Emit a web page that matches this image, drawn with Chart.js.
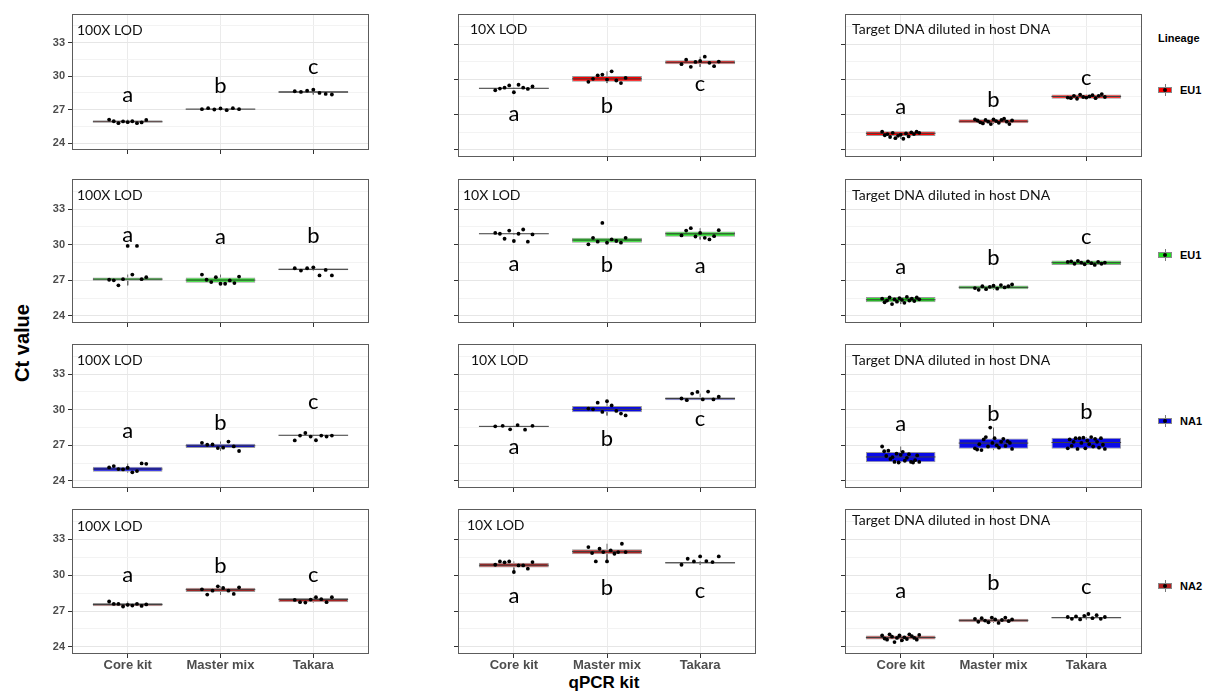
<!DOCTYPE html>
<html>
<head>
<meta charset="utf-8">
<script src="https://cdn.jsdelivr.net/npm/chart.js@4.4.1/dist/chart.umd.min.js"></script>
<style>
  html, body { margin: 0; padding: 0; background: #fff; }
  #fig { position: relative; width: 1209px; height: 691px; overflow: hidden; font-family: 'Liberation Sans', Arial, sans-serif; }
  #fig canvas { position: absolute; }
  .ytitle { position: absolute; left: 22px; top: 343px; transform: translate(-50%, -50%) rotate(-90deg); font-weight: bold; font-size: 20px; white-space: nowrap; color: #000; }
  .xtitle { position: absolute; left: 604px; top: 683px; transform: translate(-50%, -50%); font-weight: bold; font-size: 17px; white-space: nowrap; color: #000; }
  .legtitle { position: absolute; left: 1158px; top: 32px; font-weight: bold; font-size: 11px; line-height: 12px; color: #000; }
  .key { position: absolute; left: 1158px; width: 14px; height: 12px; }
  .key .wh { position: absolute; left: 6.5px; top: 0; width: 1px; height: 12px; background: #777; }
  .key .bx { position: absolute; left: 0; top: 3px; width: 12px; height: 4px; border: 1px solid #888; }
  .key .dot { position: absolute; left: 5px; top: 4px; width: 4px; height: 4px; border-radius: 50%; background: #000; }
  .keylab { position: absolute; left: 1180px; font-weight: bold; font-size: 11px; line-height: 12px; color: #000; }
</style>
</head>
<body>
<div id="fig">
  <div class="ytitle">Ct value</div>
  <div class="xtitle">qPCR kit</div>
  <div class="legtitle">Lineage</div>
</div>
<script>
// ---- data ----
const kits = ['Core kit', 'Master mix', 'Takara'];
const conditions = ['100X LOD', '10X LOD', 'Target DNA diluted in host DNA'];
const lineageNames = ['EU1', 'EU1', 'NA1', 'NA2'];
const yTicksMajor = [24, 27, 30, 33];
const yTicksMinor = [25.5, 28.5, 31.5, 34.5];

// box limits per lineage row -> condition -> kit
const boxLow = [
  [[25.85, 27.02, 28.50], [29.20, 29.79, 31.29], [25.19, 26.27, 28.35]],
  [[26.96, 26.80, 27.85], [30.90, 30.18, 30.68], [25.16, 26.24, 28.29]],
  [[24.78, 26.77, 27.83], [28.58, 29.80, 30.81], [25.58, 26.71, 26.71]],
  [[27.41, 28.60, 27.74], [30.65, 31.76, 30.98], [24.61, 26.05, 26.40]]
];
const boxMid = [
  [[25.92, 27.05, 28.58], [29.24, 30.04, 31.45], [25.41, 26.44, 28.54]],
  [[27.10, 27.02, 27.93], [30.93, 30.40, 30.93], [25.36, 26.41, 28.49]],
  [[25.00, 26.96, 27.85], [28.60, 30.04, 30.95], [26.02, 27.19, 27.24]],
  [[27.55, 28.79, 27.96], [30.84, 31.98, 31.04], [24.78, 26.22, 26.44]]
];
const boxHigh = [
  [[26.05, 27.10, 28.68], [29.27, 30.29, 31.62], [25.58, 26.60, 28.71]],
  [[27.24, 27.24, 28.00], [30.96, 30.59, 31.12], [25.60, 26.57, 28.68]],
  [[25.19, 27.13, 27.88], [28.63, 30.32, 31.06], [26.44, 27.57, 27.63]],
  [[27.68, 28.96, 28.10], [31.04, 32.17, 31.10], [24.94, 26.35, 26.50]]
];

// significance letters and their heights (Ct)
const groupLetters = [
  [['a', 'b', 'c'], ['a', 'b', 'c'], ['a', 'b', 'c']],
  [['a', 'a', 'b'], ['a', 'b', 'a'], ['a', 'b', 'c']],
  [['a', 'b', 'c'], ['a', 'b', 'c'], ['a', 'b', 'b']],
  [['a', 'b', 'c'], ['a', 'b', 'c'], ['a', 'b', 'c']]
];
const letterCt = [
  [[28.30, 29.14, 30.85], [27.05, 27.71, 29.57], [27.63, 28.24, 30.12]],
  [[30.81, 30.65, 30.73], [28.38, 28.27, 28.18], [28.15, 28.93, 30.65]],
  [[28.18, 28.90, 30.70], [26.85, 27.57, 29.24], [28.85, 29.65, 29.82]],
  [[30.04, 30.76, 30.04], [28.29, 28.96, 28.65], [28.65, 29.37, 29.04]]
];

// individual Ct values (left to right within each kit)
const ctEU1red = [
  [[26.12, 25.97, 25.80, 25.95, 25.89, 25.97, 25.80, 25.86, 26.09],
   [27.05, 27.14, 27.02, 27.11, 26.96, 27.14, 27.05],
   [28.65, 28.59, 28.70, 28.79, 28.50, 28.41, 28.36]],
  [[29.07, 29.21, 29.29, 29.48, 28.90, 29.54, 29.29, 29.18, 29.40],
   [29.79, 30.04, 30.34, 30.40, 29.98, 30.68, 29.90, 29.68, 30.12],
   [31.29, 31.67, 31.06, 31.48, 31.56, 31.92, 31.40, 31.12, 31.51]],
  [[25.55, 25.25, 25.35, 25.10, 25.45, 25.00, 25.20, 25.30, 24.95, 25.40, 25.15, 25.50, 25.35, 25.55, 25.45],
   [26.60, 26.50, 26.35, 26.25, 26.55, 26.40, 26.20, 26.60, 26.45, 26.30, 26.55, 26.65, 26.40, 26.20, 26.50],
   [28.45, 28.40, 28.60, 28.35, 28.70, 28.50, 28.45, 28.55, 28.65, 28.40, 28.60, 28.75, 28.50]]
];
const ctEU1green = [
  [[27.05, 27.00, 26.58, 27.10, 29.90, 27.49, 29.90, 27.10, 27.27],
   [27.49, 27.05, 26.85, 27.27, 26.71, 26.71, 26.99, 26.77, 27.32],
   [28.02, 27.82, 28.02, 28.10, 27.41, 27.88, 27.41]],
  [[31.00, 30.93, 30.51, 31.20, 30.32, 30.93, 31.29, 30.26, 30.87],
   [30.04, 30.59, 30.26, 31.84, 30.18, 30.45, 30.32, 30.18, 30.59],
   [30.79, 31.20, 31.40, 30.70, 31.00, 30.59, 30.45, 30.73, 31.23]],
  [[25.45, 25.15, 25.30, 25.55, 25.00, 25.40, 25.20, 25.50, 25.35, 25.10, 25.60, 25.30, 25.45, 25.25, 25.55, 25.40],
   [26.35, 26.20, 26.50, 26.25, 26.45, 26.55, 26.30, 26.60, 26.40, 26.50, 26.65],
   [28.55, 28.60, 28.40, 28.65, 28.50, 28.35, 28.60, 28.45, 28.30, 28.55, 28.40, 28.50]]
];
const ctNA1 = [
  [[25.14, 25.25, 25.00, 24.97, 25.11, 24.72, 24.83, 25.47, 25.44],
   [27.21, 27.05, 27.07, 26.77, 26.80, 27.32, 26.91, 26.52],
   [27.41, 27.82, 28.04, 27.74, 27.43, 27.82, 27.74, 27.82]],
  [[28.60, 28.65, 28.35, 28.71, 28.32, 28.65],
   [30.10, 30.04, 30.60, 29.82, 30.73, 30.37, 29.90, 29.68, 29.52],
   [30.95, 30.81, 31.37, 31.51, 30.87, 31.54, 30.87, 31.10]],
  [[26.90, 26.50, 26.10, 26.55, 25.85, 26.00, 25.60, 26.30, 25.55, 26.20, 26.45, 25.70, 25.95, 26.25, 25.60, 25.55, 25.75, 26.15, 25.60],
   [26.75, 26.65, 27.10, 26.60, 27.50, 27.70, 26.90, 28.50, 27.20, 27.60, 27.00, 26.80, 27.30, 27.55, 26.95, 27.35, 27.20, 26.70],
   [26.75, 27.50, 26.95, 27.30, 27.60, 26.70, 27.60, 27.20, 27.65, 26.75, 27.40, 27.10, 27.70, 26.90, 27.55, 27.30, 26.80, 27.60, 27.05, 26.70]]
];
const ctNA2 = [
  [[27.80, 27.60, 27.60, 27.38, 27.52, 27.46, 27.60, 27.43, 27.55],
   [28.82, 28.38, 28.71, 29.07, 28.93, 28.71, 28.43, 28.99],
   [27.93, 27.74, 27.71, 27.96, 28.16, 27.99, 27.74, 28.16]],
  [[30.88, 31.16, 31.08, 31.16, 30.27, 30.82, 30.82, 30.55, 31.10],
   [32.36, 31.86, 31.16, 32.22, 31.94, 31.16, 32.08, 31.80, 31.94, 32.64, 31.94],
   [30.88, 31.38, 31.16, 31.58, 31.19, 31.10, 31.58]],
  [[24.95, 24.70, 24.60, 25.05, 24.85, 24.40, 24.75, 24.95, 24.55, 24.80, 24.65, 25.05, 24.90, 24.75, 24.60, 25.00],
   [26.35, 26.10, 26.40, 26.20, 26.05, 26.45, 26.30, 26.00, 26.25, 26.45, 26.15, 26.30],
   [26.50, 26.35, 26.55, 26.30, 26.60, 26.75, 26.40, 26.65, 26.35, 26.50]]
];
const ctByRow = [ctEU1red, ctEU1green, ctNA1, ctNA2];

// ---- styling / layout ----
const fillColors = ['#ff0000', '#22dd22', '#0a0ae6', '#b22222'];
const colLeft = [72, 458, 845];
const colRight = [370, 757, 1143];
const rowTop = [12, 177, 342, 507];
const rowBottom = [[150, 157, 157], [323, 323, 323], [488, 488, 488], [654, 654, 654]];
const titleOffset = [
  [[5, 21], [12, 20], [7, 20]],
  [[5, 21], [5, 21], [7, 21]],
  [[5, 21], [13, 21], [7, 21]],
  [[5, 22], [9, 21], [7, 16]]
];
const legendKeyY = [90, 255, 421, 586];
const Y_MIN = 23.4, Y_MAX = 35.55, X_MIN = 0.4, X_MAX = 3.6;
const BOX_HALF = 0.375, JITTER = 0.2, AXIS_W = 40;
const yTicksAll = yTicksMajor.concat(yTicksMinor).sort((a, b) => a - b);

function whiskerEnds(pts, lo, hi) {
  const iqr = hi - lo;
  const inside = pts.filter(v => v >= lo - 1.5 * iqr && v <= hi + 1.5 * iqr);
  return [Math.min(lo, ...inside), Math.max(hi, ...inside)];
}

// frame, facet caption and group letters
const panelDecor = {
  id: 'panelDecor',
  afterDatasetsDraw(chart, args, o) {
    const {ctx, scales: {x, y}} = chart;
    ctx.save();
    ctx.fillStyle = '#000';
    ctx.font = '22px Lato, "Open Sans", sans-serif';
    ctx.textAlign = 'center';
    ctx.textBaseline = 'middle';
    o.letters.forEach((t, i) => {
      ctx.fillText(t, x.getPixelForValue(i + 1), y.getPixelForValue(o.letterY[i]));
    });
    ctx.restore();
  },
  afterDraw(chart, args, o) {
    const {ctx, chartArea: a} = chart;
    ctx.save();
    ctx.strokeStyle = '#5c5c5c';
    ctx.lineWidth = 1;
    ctx.strokeRect(Math.round(a.left) + 0.5, Math.round(a.top) + 0.5,
      Math.round(a.right - a.left) - 1, Math.round(a.bottom - a.top) - 1);
    ctx.fillStyle = '#111';
    ctx.font = '14px Lato, "Open Sans", sans-serif';
    ctx.textAlign = 'left';
    ctx.textBaseline = 'alphabetic';
    ctx.fillText(o.title, a.left + o.dx, a.top + o.dy);
    ctx.restore();
  }
};

const fig = document.getElementById('fig');

for (let r = 0; r < 4; r++) {
  for (let c = 0; c < 3; c++) {
    const L = colLeft[c], R = colRight[c], T = rowTop[r], B = rowBottom[r][c];
    const axisH = r === 3 ? 28 : 8;
    const cv = document.createElement('canvas');
    cv.width = R - L + AXIS_W + 3;
    cv.height = B - T + 2 + axisH;
    cv.style.left = (L - AXIS_W) + 'px';
    cv.style.top = (T - 2) + 'px';
    fig.appendChild(cv);

    const pts = ctByRow[r][c];
    const boxes = kits.map((k, i) => ({x: i + 1, y: [boxLow[r][c][i], boxHigh[r][c][i]]}));
    const medians = [];
    const whiskers = [];
    const dots = [];
    kits.forEach((k, i) => {
      const xc = i + 1, m = boxMid[r][c][i];
      medians.push({x: xc - BOX_HALF, y: m}, {x: xc + BOX_HALF, y: m}, {x: xc + 0.5, y: null});
      const [wl, wh] = whiskerEnds(pts[i], boxLow[r][c][i], boxHigh[r][c][i]);
      whiskers.push({x: xc, y: boxHigh[r][c][i]}, {x: xc, y: wh}, {x: xc, y: null},
                    {x: xc, y: boxLow[r][c][i]}, {x: xc, y: wl}, {x: xc, y: null});
      const n = pts[i].length;
      pts[i].forEach((v, j) => {
        dots.push({x: xc - JITTER + 2 * JITTER * (n > 1 ? j / (n - 1) : 0.5), y: v});
      });
    });

    new Chart(cv, {
      type: 'bar',
      data: {
        datasets: [
          {type: 'line', data: whiskers, borderColor: '#6a6a6a', borderWidth: 1, pointRadius: 0, spanGaps: false, order: 4},
          {type: 'bar', data: boxes, backgroundColor: fillColors[r], borderColor: '#9a9a9a', borderWidth: 1,
           borderSkipped: false, barPercentage: 0.75, categoryPercentage: 1, order: 3},
          {type: 'line', data: medians, borderColor: '#404040', borderWidth: 1, pointRadius: 0, spanGaps: false, order: 2},
          {type: 'scatter', data: dots, backgroundColor: '#000', borderWidth: 0, pointRadius: 1.9, order: 1}
        ]
      },
      options: {
        responsive: false,
        animation: false,
        devicePixelRatio: 1,
        events: [],
        layout: {padding: {left: 0, top: 2, right: 3, bottom: 0}},
        plugins: {
          legend: {display: false},
          tooltip: {enabled: false},
          panelDecor: {
            title: conditions[c], dx: titleOffset[r][c][0], dy: titleOffset[r][c][1],
            letters: groupLetters[r][c], letterY: letterCt[r][c]
          }
        },
        scales: {
          x: {
            type: 'linear', min: X_MIN, max: X_MAX, offset: false,
            afterBuildTicks: s => { s.ticks = [1, 2, 3].map(v => ({value: v})); },
            afterFit: s => { s.height = axisH; s.paddingLeft = 0; s.paddingRight = 0; },
            ticks: {
              display: r === 3, autoSkip: false, maxRotation: 0, padding: 0,
              callback: v => kits[v - 1] || '',
              font: {family: '"Liberation Sans", Arial, sans-serif', weight: 'bold', size: 13},
              color: '#4d4d4d'
            },
            grid: {offset: false, color: '#ebebeb', tickColor: '#333', tickLength: 4, lineWidth: 1},
            border: {display: false}
          },
          y: {
            type: 'linear', min: Y_MIN, max: Y_MAX,
            afterBuildTicks: s => { s.ticks = yTicksAll.map(v => ({value: v})); },
            afterFit: s => { s.width = AXIS_W; s.paddingTop = 0; s.paddingBottom = 0; },
            ticks: {
              display: c === 0, autoSkip: false, padding: 3,
              callback: v => yTicksMajor.includes(v) ? String(v) : '',
              font: {family: '"Liberation Sans", Arial, sans-serif', weight: 'bold', size: 11},
              color: '#4d4d4d'
            },
            grid: {
              color: ctx => (ctx.tick && yTicksMajor.includes(ctx.tick.value)) ? '#e6e6e6' : '#f3f3f3',
              tickColor: ctx => (ctx.tick && yTicksMajor.includes(ctx.tick.value)) ? '#333' : 'rgba(0,0,0,0)',
              tickLength: 4, lineWidth: 1
            },
            border: {display: false}
          }
        }
      },
      plugins: [panelDecor]
    });
  }
}

// lineage legend
lineageNames.forEach((name, r) => {
  const yc = legendKeyY[r];
  const key = document.createElement('div');
  key.className = 'key';
  key.style.top = (yc - 6) + 'px';
  key.innerHTML = '<div class="wh"></div><div class="bx" style="background:' + fillColors[r] + '"></div><div class="dot"></div>';
  fig.appendChild(key);
  const lab = document.createElement('div');
  lab.className = 'keylab';
  lab.style.top = (yc - 6) + 'px';
  lab.textContent = name;
  fig.appendChild(lab);
});
</script>
</body>
</html>
